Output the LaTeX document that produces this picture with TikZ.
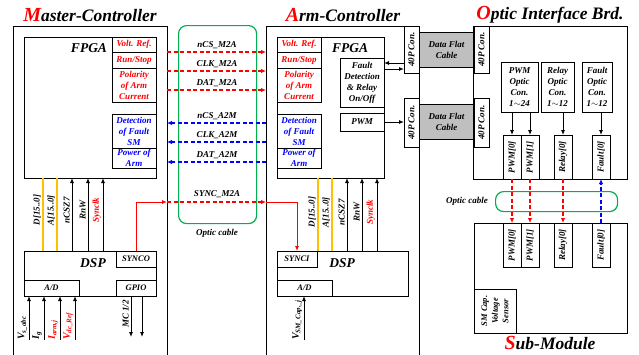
\documentclass[tikz,border=0pt]{standalone}
\usepackage{fontspec}
\setmainfont{Liberation Serif}
\usetikzlibrary{arrows.meta}
\definecolor{cred}{RGB}{255,0,0}
\definecolor{cblue}{RGB}{0,0,255}
\definecolor{cgreen}{RGB}{0,176,80}
\definecolor{corange}{RGB}{255,192,0}
\definecolor{cgray}{RGB}{191,191,191}
\newcommand{\fsz}[2]{\fontsize{#1}{#2}\selectfont\bfseries\itshape}
\begin{document}
\begin{tikzpicture}[x=1pt,y=-1pt,
  every node/.style={font=\fsz{9}{11}},
  box/.style={draw, line width=0.8pt, inner sep=0pt, outer sep=0pt, anchor=north west, align=center},
  rtxt/.style={text=cred},
  btxt/.style={text=cblue},
  big/.style={font=\fsz{13.5}{15}},
  ttl/.style={font=\fsz{17.5}{20}},
  rdash/.style={draw=cred, line width=1.6pt, dash pattern=on 4pt off 2.5pt, -{Latex[length=5pt,width=4.5pt]}},
  bdash/.style={draw=cblue, line width=1.6pt, dash pattern=on 4pt off 2.5pt, -{Latex[length=5pt,width=4.5pt]}},
  bus/.style={draw=corange, line width=1.2pt},
  sig/.style={draw=black, line width=0.9pt, -{Latex[length=5pt,width=4pt]}},
  rsig/.style={draw=cred, line width=0.9pt, -{Latex[length=5pt,width=4pt]}},
  cable/.style={draw=cgreen, line width=1.2pt, rounded corners=8pt, inner sep=0pt, anchor=north west},
  vlab/.style={rotate=90, anchor=south, inner sep=1pt, font=\fsz{9}{10}},
  ilab/.style={rotate=90, anchor=south west, inner sep=1pt, font=\fsz{10}{11}},
  conn/.style={box, font=\fsz{9}{10}},
  flat/.style={box, fill=cgray, font=\fsz{9}{11}}]
\useasboundingbox (0,0) rectangle (639,354);

% ================= Master-Controller =================
\node[ttl] (tM) at (90,15) {{\fontsize{20}{20}\selectfont\textcolor{cred}{M}}aster-Controller};
\node[box, minimum width=154, minimum height=340] (mOut) at (13,26) {};
\node[box, minimum width=132, minimum height=141] (mF) at (24,37) {};
\node[big] (mFl) at (89,48) {FPGA};
\node[box, rtxt, minimum width=44, minimum height=15] (mVR) at (112,37) {Volt. Ref.};
\node[box, rtxt, minimum width=44, minimum height=16] (mRS) at (112,52) {Run/Stop};
\node[box, rtxt, minimum width=44, minimum height=34] (mPol) at (112,68) {Polarity\\of Arm\\Current};
\node[box, btxt, minimum width=44, minimum height=34] (mDet) at (112,114) {Detection\\of Fault\\SM};
\node[box, btxt, minimum width=44, minimum height=20] (mPow) at (112,148) {Power of\\Arm};

\node[box, minimum width=132, minimum height=45] (mD) at (24,251) {};
\node[big] (mDl) at (93,263) {DSP};
\node[box, font=\fsz{8.5}{9}, minimum width=40, minimum height=16] (mSO) at (116,251) {SYNCO};
\node[box, font=\fsz{8.5}{9}, minimum width=55, minimum height=16] (mAD) at (24,280) {A/D};
\node[box, font=\fsz{8.5}{9}, minimum width=40, minimum height=16] (mGP) at (116,280) {GPIO};

% master buses
\draw[bus] (mF.south -| 43,0) -- (mD.north -| 43,0);
\draw[bus] (mF.south -| 57,0) -- (mD.north -| 57,0);
\draw[sig] (mD.north -| 72,0) -- (mF.south -| 72,0);
\draw[sig] (mD.north -| 88,0) -- (mF.south -| 88,0);
\draw[sig] (mD.north -| 103,0) -- (mF.south -| 103,0);
\node[vlab] (mlD) at (42,210) {D[15..0]};
\node[vlab] (mlA) at (56,210) {A[15..0]};
\node[vlab] (mlC) at (71,210) {nCSZ7};
\node[vlab] (mlR) at (87,210) {RnW};
\node[vlab, text=cred] (mlS) at (102,210) {Synclk};

% master analog inputs
\coordinate (i1) at (29,340);
\coordinate (i2) at (44,340);
\coordinate (i3) at (60,340);
\coordinate (i4) at (75,340);
\draw[sig] (i1) -- (i1 |- mAD.south);
\draw[sig] (i2) -- (i2 |- mAD.south);
\draw[sig] (i3) -- (i3 |- mAD.south);
\draw[sig] (i4) -- (i4 |- mAD.south);
\node[ilab] (li1) at (28,341) {V\textsubscript{s\_abc}};
\node[ilab] (li2) at (43,341) {I\textsubscript{g}};
\node[ilab, text=cred] (li3) at (59,341) {I\textsubscript{arm,j}};
\node[ilab, text=cred] (li4) at (74,341) {V\textsubscript{dc\_Ref}};

% GPIO outputs
\coordinate (g1) at (131,337);
\coordinate (g2) at (142,337);
\draw[sig] (g1 |- mGP.south) -- (g1);
\draw[sig] (g2 |- mGP.south) -- (g2);
\node[vlab] (lg) at (130,314) {MC 1/2};

% ================= Optic cable 1 =================
\node[cable, minimum width=78, minimum height=198] (oc1) at (178,25) {};
\node (oc1l) at (217,233) {Optic cable};

% ================= Arm-Controller =================
\node[ttl] (tA) at (343,15) {{\fontsize{20}{20}\selectfont\textcolor{cred}{A}}rm-Controller};
\node[box, minimum width=153, minimum height=340] (aOut) at (266,26) {};
\node[box, minimum width=107, minimum height=141] (aF) at (277,37) {};
\node[big] (aFl) at (350,48) {FPGA};
\node[box, rtxt, minimum width=44, minimum height=15] (aVR) at (277,37) {Volt. Ref.};
\node[box, rtxt, minimum width=44, minimum height=16] (aRS) at (277,52) {Run/Stop};
\node[box, rtxt, minimum width=44, minimum height=34] (aPol) at (277,68) {Polarity\\of Arm\\Current};
\node[box, btxt, minimum width=44, minimum height=34] (aDet) at (277,114) {Detection\\of Fault\\SM};
\node[box, btxt, minimum width=44, minimum height=20] (aPow) at (277,148) {Power of\\Arm};
\node[box, font=\fsz{9}{11}, minimum width=44, minimum height=49] (aFD) at (340,58) {Fault\\Detection\\\& Relay\\On/Off};
\node[box, font=\fsz{9}{11}, minimum width=44, minimum height=18] (aPWM) at (340,113) {PWM};

\node[box, minimum width=131, minimum height=45] (aD) at (277,251) {};
\node[big] (aDl) at (342,263) {DSP};
\node[box, font=\fsz{8.5}{9}, minimum width=40, minimum height=16] (aSI) at (277,251) {SYNCI};
\node[box, font=\fsz{8.5}{9}, minimum width=55, minimum height=16] (aAD) at (277,280) {A/D};

\draw[bus] (aF.south -| 318,0) -- (aD.north -| 318,0);
\draw[bus] (aF.south -| 332,0) -- (aD.north -| 332,0);
\draw[sig] (aD.north -| 347,0) -- (aF.south -| 347,0);
\draw[sig] (aD.north -| 362,0) -- (aF.south -| 362,0);
\draw[sig] (aD.north -| 377,0) -- (aF.south -| 377,0);
\node[vlab] (alD) at (317,212) {D[15..0]};
\node[vlab] (alA) at (331,212) {A[15..0]};
\node[vlab] (alC) at (346,212) {nCSZ7};
\node[vlab] (alR) at (361,212) {RnW};
\node[vlab, text=cred] (alS) at (376,212) {Synclk};

\coordinate (vsm) at (304,340);
\draw[sig] (vsm) -- (vsm |- aAD.south);
\node[ilab] (lvsm) at (303,341) {V\textsubscript{SM\_Cap.\_j}};

% ================= M2A / A2M links =================
\draw[rdash] (mOut.east |- 0,52) -- (aOut.west |- 0,52);
\draw[rdash] (mOut.east |- 0,71) -- (aOut.west |- 0,71);
\draw[rdash] (mOut.east |- 0,90) -- (aOut.west |- 0,90);
\draw[bdash] (aOut.west |- 0,123) -- (mOut.east |- 0,123);
\draw[bdash] (aOut.west |- 0,142) -- (mOut.east |- 0,142);
\draw[bdash] (aOut.west |- 0,162) -- (mOut.east |- 0,162);
\node (l1) at (217,45) {nCS\_M2A};
\node (l2) at (217,64) {CLK\_M2A};
\node (l3) at (217,83) {DAT\_M2A};
\node (l4) at (217,116) {nCS\_A2M};
\node (l5) at (217,135) {CLK\_A2M};
\node (l6) at (217,155) {DAT\_A2M};

% SYNC
\draw[rsig] (mSO.north) |- (mOut.east |- 0,202);
\draw[rdash] (mOut.east |- 0,202) -- (aOut.west |- 0,202);
\draw[rsig] (aOut.west |- 0,202) -| (aSI.north);
\node (l7) at (217,194) {SYNC\_M2A};

% ================= 40P connectors & flat cables =================
\node[conn, minimum width=15, minimum height=47] (c1) at (404,26) {\rotatebox{90}{40P Con.}};
\node[conn, minimum width=15, minimum height=49] (c2) at (404,98) {\rotatebox{90}{40P Con.}};
\node[flat, minimum width=55, minimum height=35] (fc1) at (419,32) {Data Flat\\Cable};
\node[flat, minimum width=55, minimum height=35] (fc2) at (419,104) {Data Flat\\Cable};
\node[conn, minimum width=15, minimum height=47] (c3) at (474,26) {\rotatebox{90}{40P Con.}};
\node[conn, minimum width=15, minimum height=49] (c4) at (474,98) {\rotatebox{90}{40P Con.}};

\draw[sig] (c1.west |- 0,63) -- (aFD.east |- 0,63);
\draw[sig] (aFD.east |- 0,69) -- (c1.west |- 0,69);
\draw[sig] (aPWM.east |- 0,122) -- (c2.west |- 0,122);

% ================= Optic Interface Board =================
\node[ttl] (tO) at (550,15) {{\fontsize{20}{20}\selectfont\textcolor{cred}{O}}ptic Interface Brd.};
\node[box, minimum width=154, minimum height=153] (ob) at (473,26) {};
\node[box, minimum width=37, minimum height=50, font=\fsz{9}{11}] (opP) at (501,62) {PWM\\Optic\\Con.\\1$\sim$24};
\node[box, minimum width=33, minimum height=50, font=\fsz{9}{11}] (opR) at (541,62) {Relay\\Optic\\Con.\\1$\sim$12};
\node[box, minimum width=30, minimum height=50, font=\fsz{9}{11}] (opF) at (582,62) {Fault\\Optic\\Con.\\1$\sim$12};

\node[conn, minimum width=18, minimum height=44] (oP0) at (503,135) {\rotatebox{90}{PWM[0]}};
\node[conn, minimum width=18, minimum height=44] (oP1) at (521,135) {\rotatebox{90}{PWM[1]}};
\node[conn, minimum width=18, minimum height=44] (oR0) at (554,135) {\rotatebox{90}{Relay[0]}};
\node[conn, minimum width=18, minimum height=44] (oF0) at (592,135) {\rotatebox{90}{Fault[0]}};

\draw[sig] (opP.south -| oP0.north) -- (oP0.north);
\draw[sig] (opP.south -| oP1.north) -- (oP1.north);
\draw[sig] (opR.south -| oR0.north) -- (oR0.north);
\draw[sig] (opF.south -| oF0.north) -- (oF0.north);

% ================= Sub-Module =================
\node[box, minimum width=153, minimum height=110] (sm) at (474,223) {};
\node[ttl] (tS) at (550,343) {{\fontsize{20}{20}\selectfont\textcolor{cred}{S}}ub-Module};
\node[conn, minimum width=18, minimum height=44] (sP0) at (503,223) {\rotatebox{90}{PWM[0]}};
\node[conn, minimum width=18, minimum height=44] (sP1) at (521,223) {\rotatebox{90}{PWM[1]}};
\node[conn, minimum width=18, minimum height=44] (sR0) at (554,223) {\rotatebox{90}{Relay[0]}};
\node[conn, minimum width=18, minimum height=44] (sF0) at (592,223) {\rotatebox{90}{Fault[0]}};
\node[box, minimum width=42, minimum height=44, font=\fsz{8.5}{9.5}] (sSen) at (474,289) {\rotatebox{90}{\shortstack{SM Cap.\\Voltage\\Sensor}}};

% optic cable 2
\node[cable, minimum width=122, minimum height=20] (oc2) at (495,191) {};
\node (oc2l) at (467,201) {Optic cable};
\draw[rdash] (oP0.south) -- (sP0.north);
\draw[rdash] (oP1.south) -- (sP1.north);
\draw[rdash] (oR0.south) -- (sR0.north);
\draw[bdash] (sF0.north) -- (oF0.south);
\end{tikzpicture}
\end{document}
